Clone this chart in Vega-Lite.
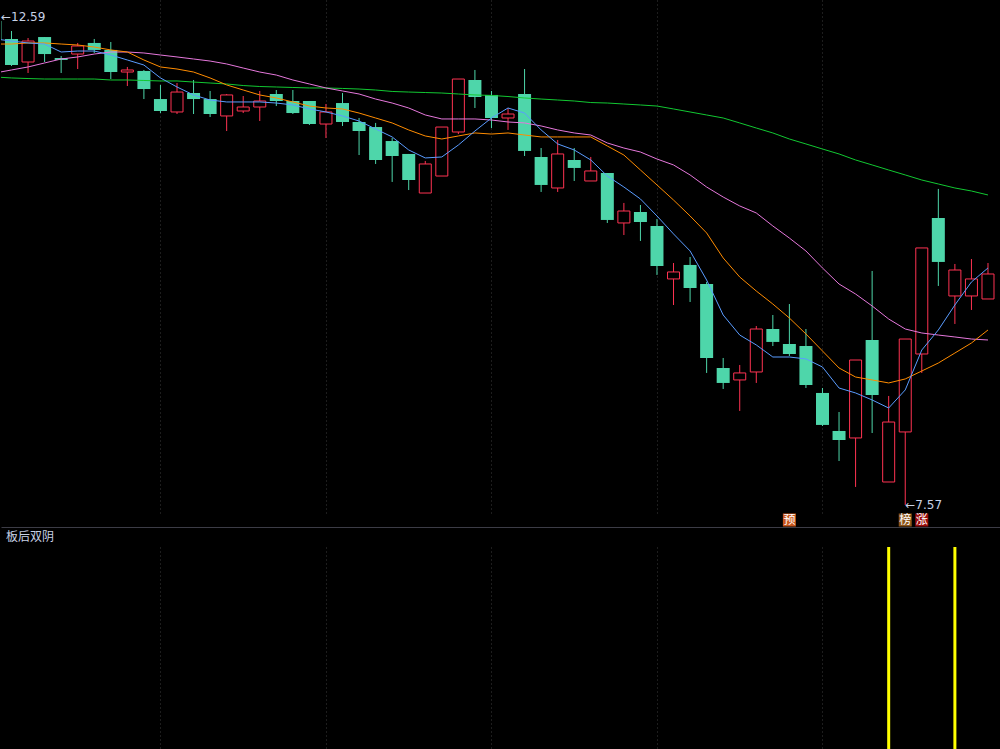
{
  "$schema": "https://vega.github.io/schema/vega-lite/v6.json",
  "background": "#000000",
  "padding": 0,
  "spacing": 0,
  "config": {
    "view": {"stroke": null},
    "axis": {"labels": false, "ticks": false, "domain": false, "title": null, "grid": false}
  },
  "datasets": {
    "k": [
      {"i":0,"o":12.549,"h":12.59,"l":12.312,"c":12.353,"ma5":12.364,"ma10":12.312,"ma20":12.014,"ma60":11.973},
      {"i":1,"o":12.364,"h":12.446,"l":12.086,"c":12.096,"ma5":12.343,"ma10":12.312,"ma20":12.045,"ma60":11.963},
      {"i":2,"o":12.127,"h":12.374,"l":12.014,"c":12.343,"ma5":12.323,"ma10":12.323,"ma20":12.076,"ma60":11.957},
      {"i":3,"o":12.384,"h":12.384,"l":12.127,"c":12.209,"ma5":12.312,"ma10":12.323,"ma20":12.117,"ma60":11.952},
      {"i":4,"o":12.168,"h":12.189,"l":12.014,"c":12.148,"ma5":12.230,"ma10":12.312,"ma20":12.158,"ma60":11.952},
      {"i":5,"o":12.209,"h":12.323,"l":12.055,"c":12.292,"ma5":12.240,"ma10":12.302,"ma20":12.179,"ma60":11.952},
      {"i":6,"o":12.323,"h":12.364,"l":12.220,"c":12.251,"ma5":12.240,"ma10":12.281,"ma20":12.209,"ma60":11.952},
      {"i":7,"o":12.251,"h":12.333,"l":11.952,"c":12.024,"ma5":12.199,"ma10":12.251,"ma20":12.230,"ma60":11.942},
      {"i":8,"o":12.024,"h":12.076,"l":11.880,"c":12.045,"ma5":12.148,"ma10":12.230,"ma20":12.230,"ma60":11.942},
      {"i":9,"o":12.035,"h":12.045,"l":11.746,"c":11.849,"ma5":12.096,"ma10":12.148,"ma20":12.220,"ma60":11.937},
      {"i":10,"o":11.746,"h":11.891,"l":11.602,"c":11.623,"ma5":11.963,"ma10":12.076,"ma20":12.199,"ma60":11.932},
      {"i":11,"o":11.613,"h":11.911,"l":11.592,"c":11.818,"ma5":11.870,"ma10":12.055,"ma20":12.179,"ma60":11.932},
      {"i":12,"o":11.808,"h":11.942,"l":11.592,"c":11.746,"ma5":11.788,"ma10":12.024,"ma20":12.158,"ma60":11.921},
      {"i":13,"o":11.746,"h":11.829,"l":11.561,"c":11.592,"ma5":11.736,"ma10":11.963,"ma20":12.137,"ma60":11.911},
      {"i":14,"o":11.572,"h":11.798,"l":11.417,"c":11.788,"ma5":11.716,"ma10":11.891,"ma20":12.107,"ma60":11.901},
      {"i":15,"o":11.623,"h":11.777,"l":11.602,"c":11.664,"ma5":11.716,"ma10":11.839,"ma20":12.065,"ma60":11.885},
      {"i":16,"o":11.664,"h":11.829,"l":11.520,"c":11.726,"ma5":11.716,"ma10":11.788,"ma20":12.024,"ma60":11.875},
      {"i":17,"o":11.798,"h":11.839,"l":11.674,"c":11.726,"ma5":11.705,"ma10":11.757,"ma20":11.993,"ma60":11.870},
      {"i":18,"o":11.726,"h":11.839,"l":11.592,"c":11.602,"ma5":11.685,"ma10":11.716,"ma20":11.942,"ma60":11.865},
      {"i":19,"o":11.726,"h":11.726,"l":11.479,"c":11.489,"ma5":11.644,"ma10":11.674,"ma20":11.901,"ma60":11.860},
      {"i":20,"o":11.489,"h":11.695,"l":11.345,"c":11.613,"ma5":11.613,"ma10":11.654,"ma20":11.860,"ma60":11.860},
      {"i":21,"o":11.705,"h":11.808,"l":11.469,"c":11.510,"ma5":11.572,"ma10":11.644,"ma20":11.829,"ma60":11.855},
      {"i":22,"o":11.510,"h":11.551,"l":11.170,"c":11.417,"ma5":11.520,"ma10":11.602,"ma20":11.798,"ma60":11.849},
      {"i":23,"o":11.458,"h":11.500,"l":11.078,"c":11.119,"ma5":11.438,"ma10":11.551,"ma20":11.746,"ma60":11.839},
      {"i":24,"o":11.314,"h":11.345,"l":10.893,"c":11.160,"ma5":11.356,"ma10":11.500,"ma20":11.705,"ma60":11.824},
      {"i":25,"o":11.181,"h":11.181,"l":10.810,"c":10.913,"ma5":11.222,"ma10":11.428,"ma20":11.654,"ma60":11.818},
      {"i":26,"o":10.779,"h":11.109,"l":10.779,"c":11.078,"ma5":11.140,"ma10":11.366,"ma20":11.582,"ma60":11.813},
      {"i":27,"o":10.954,"h":11.458,"l":10.954,"c":11.458,"ma5":11.150,"ma10":11.335,"ma20":11.541,"ma60":11.808},
      {"i":28,"o":11.407,"h":11.952,"l":11.386,"c":11.952,"ma5":11.273,"ma10":11.366,"ma20":11.541,"ma60":11.798},
      {"i":29,"o":11.942,"h":12.045,"l":11.654,"c":11.767,"ma5":11.417,"ma10":11.397,"ma20":11.541,"ma60":11.788},
      {"i":30,"o":11.788,"h":11.829,"l":11.448,"c":11.551,"ma5":11.551,"ma10":11.386,"ma20":11.530,"ma60":11.783},
      {"i":31,"o":11.551,"h":11.654,"l":11.428,"c":11.592,"ma5":11.654,"ma10":11.397,"ma20":11.510,"ma60":11.772},
      {"i":32,"o":11.798,"h":12.055,"l":11.160,"c":11.212,"ma5":11.602,"ma10":11.376,"ma20":11.500,"ma60":11.757},
      {"i":33,"o":11.150,"h":11.242,"l":10.790,"c":10.862,"ma5":11.428,"ma10":11.356,"ma20":11.469,"ma60":11.746},
      {"i":34,"o":10.831,"h":11.325,"l":10.790,"c":11.181,"ma5":11.284,"ma10":11.356,"ma20":11.428,"ma60":11.736},
      {"i":35,"o":11.119,"h":11.242,"l":10.903,"c":11.037,"ma5":11.222,"ma10":11.356,"ma20":11.397,"ma60":11.726},
      {"i":36,"o":10.903,"h":11.150,"l":10.903,"c":11.006,"ma5":11.119,"ma10":11.356,"ma20":11.376,"ma60":11.710},
      {"i":37,"o":10.985,"h":10.985,"l":10.471,"c":10.502,"ma5":10.954,"ma10":11.263,"ma20":11.294,"ma60":11.705},
      {"i":38,"o":10.471,"h":10.677,"l":10.347,"c":10.594,"ma5":10.841,"ma10":11.170,"ma20":11.242,"ma60":11.695},
      {"i":39,"o":10.584,"h":10.656,"l":10.286,"c":10.481,"ma5":10.718,"ma10":11.016,"ma20":11.201,"ma60":11.685},
      {"i":40,"o":10.440,"h":10.512,"l":9.936,"c":10.028,"ma5":10.543,"ma10":10.862,"ma20":11.129,"ma60":11.674},
      {"i":41,"o":9.895,"h":10.059,"l":9.627,"c":9.967,"ma5":10.358,"ma10":10.707,"ma20":11.068,"ma60":11.644},
      {"i":42,"o":10.039,"h":10.121,"l":9.658,"c":9.802,"ma5":10.183,"ma10":10.543,"ma20":10.965,"ma60":11.613},
      {"i":43,"o":9.843,"h":9.864,"l":8.928,"c":9.082,"ma5":9.884,"ma10":10.368,"ma20":10.841,"ma60":11.582},
      {"i":44,"o":8.979,"h":9.082,"l":8.763,"c":8.825,"ma5":9.524,"ma10":10.111,"ma20":10.738,"ma60":11.551},
      {"i":45,"o":8.856,"h":9.010,"l":8.537,"c":8.928,"ma5":9.318,"ma10":9.915,"ma20":10.646,"ma60":11.500},
      {"i":46,"o":8.938,"h":9.411,"l":8.825,"c":9.380,"ma5":9.216,"ma10":9.771,"ma20":10.574,"ma60":11.448},
      {"i":47,"o":9.380,"h":9.524,"l":9.205,"c":9.247,"ma5":9.092,"ma10":9.637,"ma20":10.440,"ma60":11.397},
      {"i":48,"o":9.226,"h":9.637,"l":9.102,"c":9.123,"ma5":9.092,"ma10":9.493,"ma20":10.316,"ma60":11.335},
      {"i":49,"o":9.205,"h":9.380,"l":8.773,"c":8.804,"ma5":9.072,"ma10":9.329,"ma20":10.183,"ma60":11.284},
      {"i":50,"o":8.722,"h":8.773,"l":8.382,"c":8.393,"ma5":8.989,"ma10":9.154,"ma20":10.008,"ma60":11.232},
      {"i":51,"o":8.331,"h":8.526,"l":8.022,"c":8.238,"ma5":8.773,"ma10":8.979,"ma20":9.843,"ma60":11.181},
      {"i":52,"o":8.259,"h":9.061,"l":7.755,"c":9.061,"ma5":8.722,"ma10":8.886,"ma20":9.740,"ma60":11.119},
      {"i":53,"o":9.267,"h":9.977,"l":8.310,"c":8.701,"ma5":8.650,"ma10":8.856,"ma20":9.617,"ma60":11.068},
      {"i":54,"o":7.806,"h":8.691,"l":7.806,"c":8.423,"ma5":8.567,"ma10":8.825,"ma20":9.483,"ma60":11.016},
      {"i":55,"o":8.321,"h":9.277,"l":7.570,"c":9.277,"ma5":8.753,"ma10":8.866,"ma20":9.380,"ma60":10.965},
      {"i":56,"o":9.123,"h":10.214,"l":8.928,"c":10.214,"ma5":9.164,"ma10":8.948,"ma20":9.339,"ma60":10.913},
      {"i":57,"o":10.522,"h":10.821,"l":9.823,"c":10.070,"ma5":9.370,"ma10":9.030,"ma20":9.318,"ma60":10.872},
      {"i":58,"o":9.720,"h":10.049,"l":9.432,"c":9.987,"ma5":9.627,"ma10":9.133,"ma20":9.298,"ma60":10.831},
      {"i":59,"o":9.720,"h":10.100,"l":9.576,"c":9.895,"ma5":9.864,"ma10":9.236,"ma20":9.277,"ma60":10.800},
      {"i":60,"o":9.689,"h":10.059,"l":9.689,"c":9.946,"ma5":10.008,"ma10":9.370,"ma20":9.267,"ma60":10.759}
    ],
    "extremes": [
      {"i":0,"price":12.59,"label":"←12.59"},
      {"i":55,"price":7.57,"label":"←7.57"}
    ],
    "marks": [
      {"i":48,"label":"预"},
      {"i":55,"label":"榜"},
      {"i":56,"label":"涨"}
    ],
    "signal": [
      {"i":54,"v":1},
      {"i":58,"v":1}
    ]
  },
  "vconcat": [
    {
      "width": 1000,
      "height": 513,
      "data": {"name": "k"},
      "encoding": {
        "x": {"field": "i", "type": "quantitative",
              "scale": {"domain": [0.3656, 60.786], "nice": false, "zero": false, "padding": 0},
              "axis": {"grid": true, "gridColor": "#3a3a3a", "gridDash": [1, 3], "values": [10, 20, 30, 40, 50]}}
      },
      "layer": [
        {
          "transform": [{"filter": "datum.c < datum.o"}],
          "mark": {"type": "rule", "color": "#4ed6aa", "strokeWidth": 1, "clip": true},
          "encoding": {
            "y": {"field": "l", "type": "quantitative", "scale": {"domain": [7.487, 12.765], "nice": false, "zero": false}, "axis": null},
            "y2": {"field": "h"}
          }
        },
        {
          "transform": [{"filter": "datum.c >= datum.o"}],
          "mark": {"type": "rule", "color": "#ff3352", "strokeWidth": 1, "clip": true},
          "encoding": {
            "y": {"field": "l", "type": "quantitative", "scale": {"domain": [7.487, 12.765], "nice": false, "zero": false}, "axis": null},
            "y2": {"field": "h"}
          }
        },
        {
          "transform": [{"filter": "datum.c < datum.o"}],
          "mark": {"type": "bar", "size": 13, "color": "#4ed6aa", "clip": true},
          "encoding": {
            "y": {"field": "o", "type": "quantitative", "scale": {"domain": [7.487, 12.765], "nice": false, "zero": false}, "axis": null},
            "y2": {"field": "c"}
          }
        },
        {
          "transform": [{"filter": "datum.c >= datum.o"}],
          "mark": {"type": "bar", "size": 12, "fill": "#000000", "stroke": "#ff3352", "strokeWidth": 1, "clip": true},
          "encoding": {
            "y": {"field": "o", "type": "quantitative", "scale": {"domain": [7.487, 12.765], "nice": false, "zero": false}, "axis": null},
            "y2": {"field": "c"}
          }
        },
        {
          "mark": {"type": "line", "color": "#12c832", "strokeWidth": 1, "clip": true},
          "encoding": {"y": {"field": "ma60", "type": "quantitative", "scale": {"domain": [7.487, 12.765], "nice": false, "zero": false}, "axis": null}}
        },
        {
          "mark": {"type": "line", "color": "#e678dc", "strokeWidth": 1, "clip": true},
          "encoding": {"y": {"field": "ma20", "type": "quantitative", "scale": {"domain": [7.487, 12.765], "nice": false, "zero": false}, "axis": null}}
        },
        {
          "mark": {"type": "line", "color": "#ff8c00", "strokeWidth": 1, "clip": true},
          "encoding": {"y": {"field": "ma10", "type": "quantitative", "scale": {"domain": [7.487, 12.765], "nice": false, "zero": false}, "axis": null}}
        },
        {
          "mark": {"type": "line", "color": "#5a9cff", "strokeWidth": 1, "clip": true},
          "encoding": {"y": {"field": "ma5", "type": "quantitative", "scale": {"domain": [7.487, 12.765], "nice": false, "zero": false}, "axis": null}}
        },
        {
          "data": {"name": "extremes"},
          "transform": [{"filter": "datum.i == 0"}],
          "mark": {"type": "text", "align": "left", "baseline": "middle", "dx": 6, "fontSize": 12, "font": "DejaVu Sans", "color": "#c8d2e6"},
          "encoding": {
            "y": {"field": "price", "type": "quantitative", "scale": {"domain": [7.487, 12.765], "nice": false, "zero": false}, "axis": null},
            "text": {"field": "label"}
          }
        },
        {
          "data": {"name": "extremes"},
          "transform": [{"filter": "datum.i == 55"}],
          "mark": {"type": "text", "align": "left", "baseline": "middle", "dx": 0, "fontSize": 12, "font": "DejaVu Sans", "color": "#c8d2e6"},
          "encoding": {
            "y": {"field": "price", "type": "quantitative", "scale": {"domain": [7.487, 12.765], "nice": false, "zero": false}, "axis": null},
            "text": {"field": "label"}
          }
        }
      ]
    },
    {
      "width": 1000,
      "height": 14,
      "data": {"name": "marks"},
      "encoding": {
        "x": {"field": "i", "type": "quantitative",
              "scale": {"domain": [0.3656, 60.786], "nice": false, "zero": false, "padding": 0},
              "axis": {"domain": true, "domainColor": "#3c3c46", "domainWidth": 1, "ticks": true, "tickSize": 4, "tickOpacity": 0, "values": [30]}}
      },
      "layer": [
        {
          "mark": {"type": "point", "shape": "square", "size": 169, "filled": true, "opacity": 1},
          "encoding": {
            "color": {"field": "label", "type": "nominal",
                      "scale": {"domain": ["预", "榜", "涨"], "range": ["#c8561c", "#8c5418", "#9a0c0c"]},
                      "legend": null}
          }
        },
        {
          "mark": {"type": "text", "color": "#ffffff", "fontSize": 12, "font": "Noto Sans CJK SC", "baseline": "middle", "align": "center"},
          "encoding": {"text": {"field": "label"}}
        }
      ]
    },
    {
      "width": 1000,
      "height": 202,
      "title": {"text": "板后双阴", "anchor": "start", "frame": "group", "fontSize": 12, "fontWeight": "normal", "font": "Noto Sans CJK SC", "color": "#c8d2e6", "offset": 3, "dx": 5},
      "data": {"name": "signal"},
      "mark": {"type": "bar", "size": 3, "color": "#ffff00"},
      "encoding": {
        "x": {"field": "i", "type": "quantitative",
              "scale": {"domain": [0.3656, 60.786], "nice": false, "zero": false, "padding": 0},
              "axis": {"grid": true, "gridColor": "#3a3a3a", "gridDash": [1, 3], "values": [10, 20, 30, 40, 50]}},
        "y": {"field": "v", "type": "quantitative", "scale": {"domain": [0, 1], "nice": false}, "axis": null}
      }
    }
  ]
}
